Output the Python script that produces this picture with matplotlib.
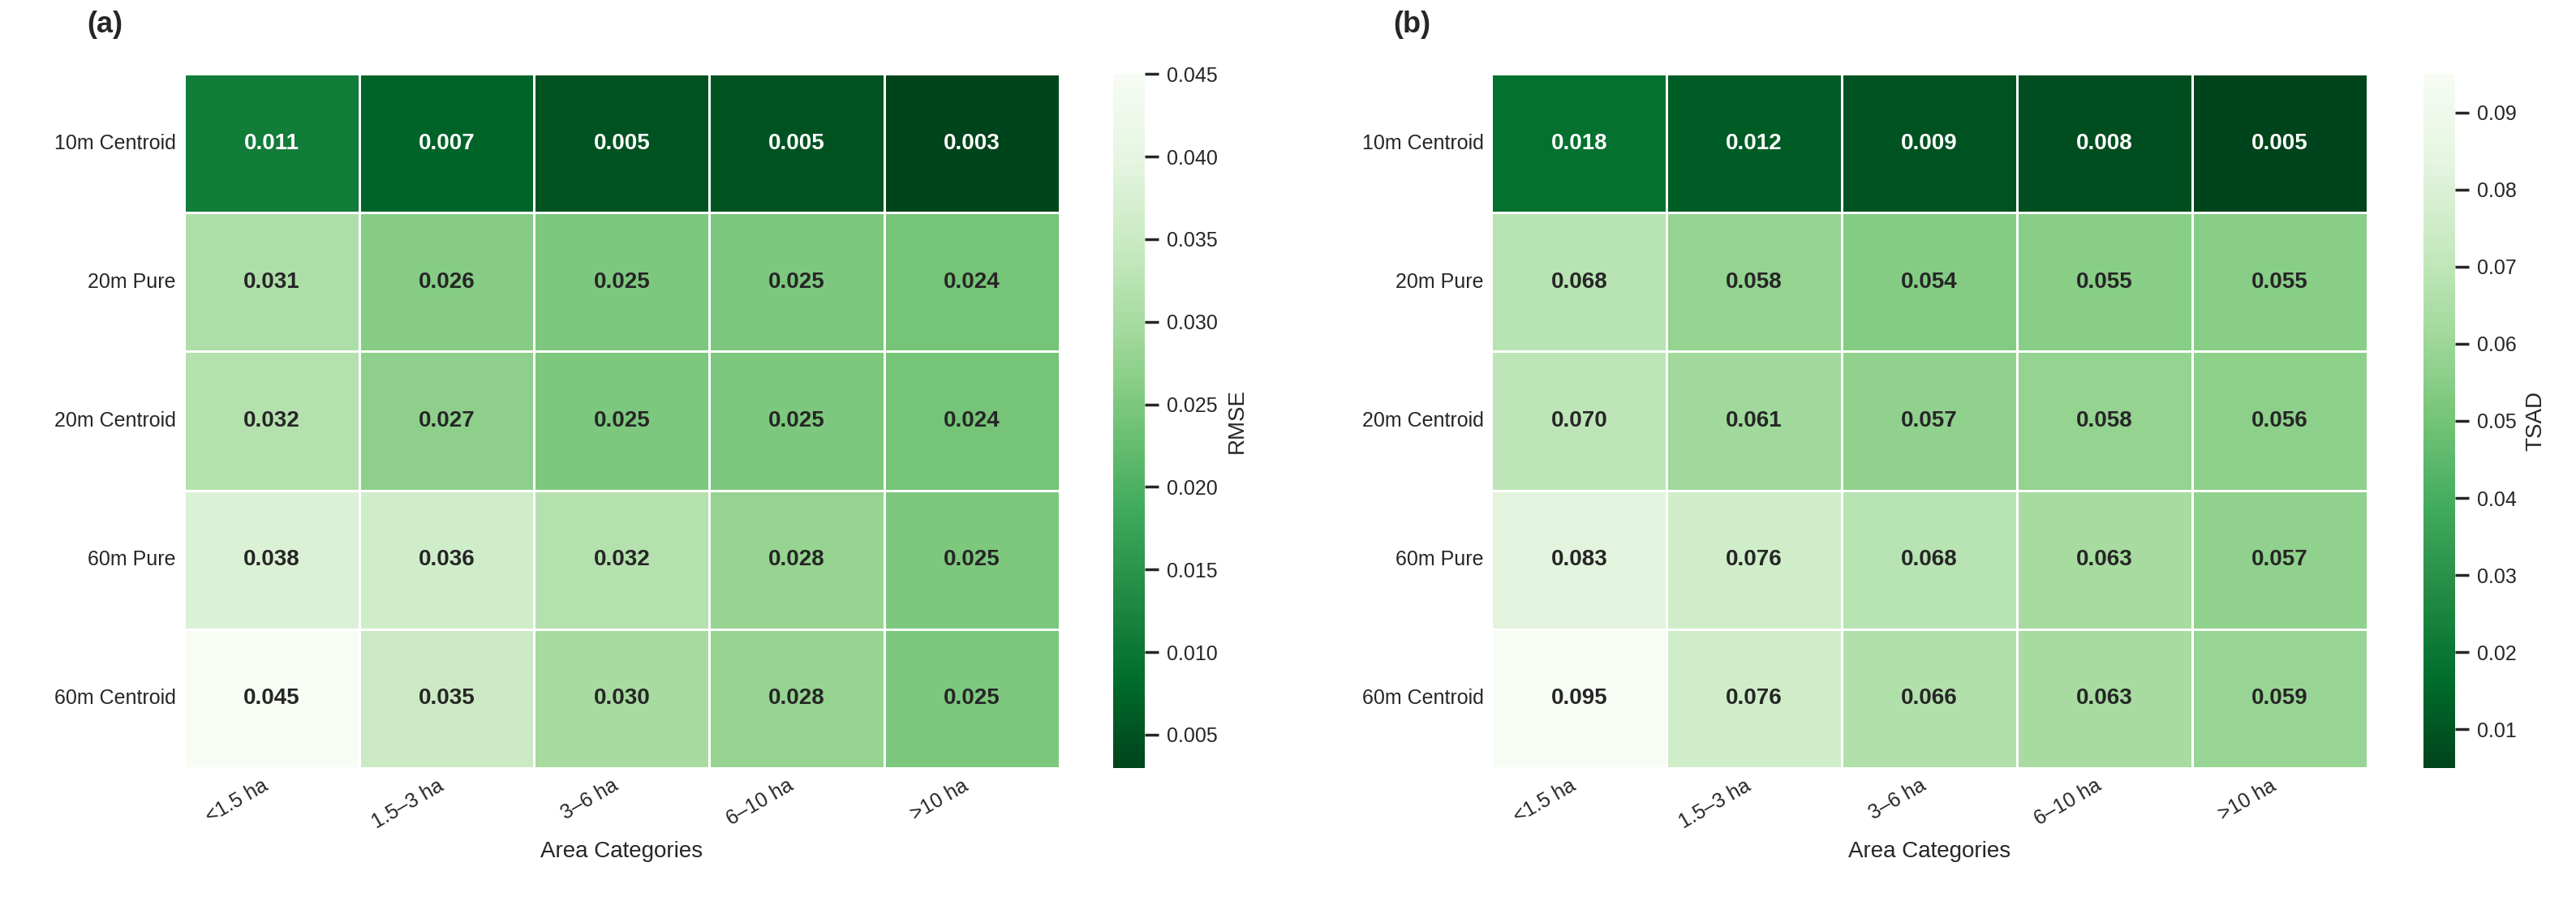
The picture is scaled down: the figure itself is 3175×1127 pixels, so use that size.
import matplotlib
matplotlib.use("Agg")
import matplotlib.pyplot as plt
import seaborn as sns
import numpy as np

sns.set_theme(style="white")
plt.rcParams['font.family'] = ['Liberation Sans', 'DejaVu Sans']

rows = ["10m Centroid", "20m Pure", "20m Centroid", "60m Pure", "60m Centroid"]
cols = ["<1.5 ha", "1.5\u20133 ha", "3\u20136 ha", "6\u201310 ha", ">10 ha"]
rmse = [[0.011, 0.007, 0.005, 0.005, 0.003],
        [0.031, 0.026, 0.025, 0.025, 0.024],
        [0.032, 0.027, 0.025, 0.025, 0.024],
        [0.038, 0.036, 0.032, 0.028, 0.025],
        [0.045, 0.035, 0.030, 0.028, 0.025]]
tsad = [[0.018, 0.012, 0.009, 0.008, 0.005],
        [0.068, 0.058, 0.054, 0.055, 0.055],
        [0.070, 0.061, 0.057, 0.058, 0.056],
        [0.083, 0.076, 0.068, 0.063, 0.057],
        [0.095, 0.076, 0.066, 0.063, 0.059]]

fig = plt.figure(figsize=(15.875, 5.635), dpi=200)
specs = [
    (rmse, "RMSE", "(a)", [0.0714, 0.160, 0.3399, 0.759], [0.432, 0.160, 0.0125, 0.759]),
    (tsad, "TSAD", "(b)", [0.579, 0.160, 0.340, 0.759], [0.9407, 0.160, 0.0125, 0.759]),
]
for data, name, tag, pos, cpos in specs:
    ax = fig.add_axes(pos)
    cax = fig.add_axes(cpos)
    arr = np.array(data)
    sns.heatmap(arr, ax=ax, cbar_ax=cax, cmap="Greens_r", linewidths=0.5, linecolor="white",
                annot=True, fmt=".3f", annot_kws={"fontsize": 10, "fontweight": "bold"},
                xticklabels=cols, yticklabels=rows, cbar_kws={"label": name})
    ax.set_xticklabels(cols, rotation=30, ha="right", fontsize=9)
    ax.set_yticklabels(rows, rotation=0, fontsize=9)
    ax.set_xlabel("Area Categories", fontsize=10)
    ax.tick_params(length=0)
    cax.tick_params(labelsize=9)
    cax.yaxis.label.set_size(10)
    ax.text(-0.07, 1.06, tag, transform=ax.transAxes, fontsize=13, fontweight="bold", ha="right")

fig.savefig("out.png", dpi=200)
